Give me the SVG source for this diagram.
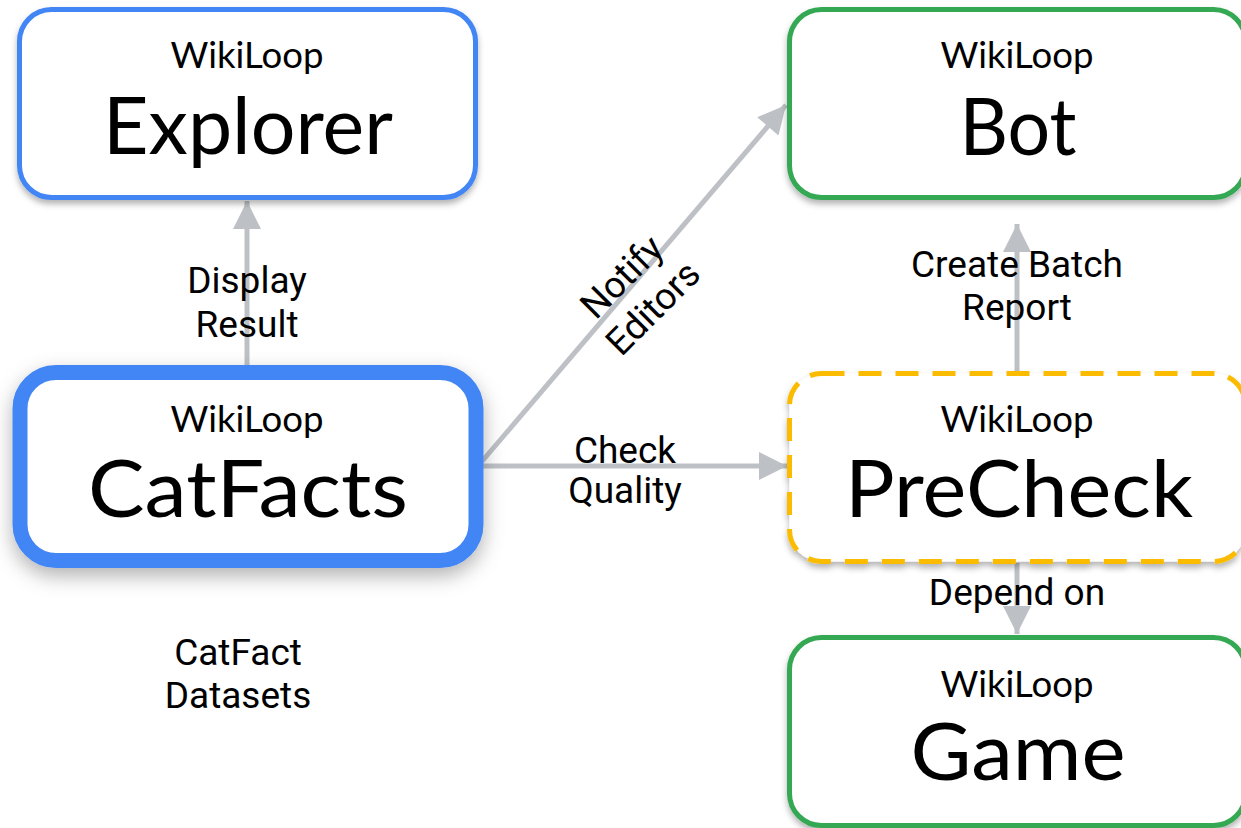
<svg xmlns="http://www.w3.org/2000/svg" width="1241" height="828" viewBox="0 0 1241 828">
<style>
.box{fill:#fff}
.sub{font-family:"Lato","Open Sans",sans-serif;font-size:37px;fill:#000;text-anchor:middle}
.big{font-family:"Lato","Open Sans",sans-serif;font-size:80px;fill:#000;text-anchor:middle}
.lbl{font-family:Roboto,"Liberation Sans",sans-serif;font-size:37px;fill:#000;text-anchor:middle}
.conn{stroke:#bdc1c6;stroke-width:5;fill:none}
</style>
<defs>
<filter id="sh" x="-10%" y="-10%" width="120%" height="130%"><feDropShadow dx="0" dy="4" stdDeviation="3" flood-color="#000" flood-opacity="0.3"/></filter>
<filter id="shBig" x="-15%" y="-15%" width="130%" height="140%"><feDropShadow dx="0" dy="8" stdDeviation="10" flood-color="#000" flood-opacity="0.3"/></filter>
<marker id="ah" viewBox="0 0 10 10" refX="10" refY="5" markerWidth="7.6" markerHeight="5.6" orient="auto" markerUnits="strokeWidth"><path d="M0,0L10,5L0,10Z" fill="#bdc1c6"/></marker>
</defs>
<g id="connectors">
<line class="conn" x1="247" y1="372" x2="247" y2="201" marker-end="url(#ah)"/>
<line class="conn" x1="478" y1="466" x2="786" y2="105" marker-end="url(#ah)"/>
<line class="conn" x1="478" y1="466" x2="787" y2="466" marker-end="url(#ah)"/>
<line class="conn" x1="1017" y1="372" x2="1017" y2="224" marker-end="url(#ah)"/>
<line class="conn" x1="1017" y1="563" x2="1017" y2="634" marker-end="url(#ah)"/>
</g>
<g id="node-explorer">
<rect class="box" x="19.5" y="9.5" width="456" height="188" rx="32" stroke="#4285f4" stroke-width="5" filter="url(#sh)"/>
<text class="sub" x="247" y="68" textLength="153" lengthAdjust="spacingAndGlyphs">WikiLoop</text>
<text class="big" x="248" y="154" textLength="290" lengthAdjust="spacingAndGlyphs">Explorer</text>
</g>
<g id="node-catfacts">
<rect class="box" x="20" y="372.5" width="456" height="188" rx="36" stroke="#4285f4" stroke-width="15" filter="url(#shBig)"/>
<text class="sub" x="247" y="432" textLength="153" lengthAdjust="spacingAndGlyphs">WikiLoop</text>
<text class="big" x="248" y="517" textLength="320" lengthAdjust="spacingAndGlyphs">CatFacts</text>
</g>
<g id="node-bot">
<rect class="box" x="789.5" y="9.5" width="456" height="188" rx="32" stroke="#34a853" stroke-width="5" filter="url(#sh)"/>
<text class="sub" x="1017" y="68" textLength="153" lengthAdjust="spacingAndGlyphs">WikiLoop</text>
<text class="big" x="1018" y="155" textLength="117" lengthAdjust="spacingAndGlyphs">Bot</text>
</g>
<g id="node-precheck">
<rect class="box" x="789.5" y="373.5" width="456" height="188" rx="32" stroke="#fbbc04" stroke-width="5" stroke-dasharray="23 14" filter="url(#sh)"/>
<text class="sub" x="1017" y="432" textLength="153" lengthAdjust="spacingAndGlyphs">WikiLoop</text>
<text class="big" x="1019" y="517" textLength="348" lengthAdjust="spacingAndGlyphs">PreCheck</text>
</g>
<g id="node-game">
<rect class="box" x="789.5" y="637.5" width="456" height="188" rx="32" stroke="#34a853" stroke-width="5" filter="url(#sh)"/>
<text class="sub" x="1017" y="697" textLength="153" lengthAdjust="spacingAndGlyphs">WikiLoop</text>
<text class="big" x="1018" y="780" textLength="215" lengthAdjust="spacingAndGlyphs">Game</text>
</g>
<g id="labels">
<text class="lbl" x="247" y="293">Display</text>
<text class="lbl" x="247" y="337">Result</text>
<text class="lbl" x="625" y="463">Check</text>
<text class="lbl" x="625" y="503">Quality</text>
<text class="lbl" x="1017" y="277">Create Batch</text>
<text class="lbl" x="1017" y="320">Report</text>
<text class="lbl" x="1017" y="605">Depend on</text>
<text class="lbl" x="238" y="665">CatFact</text>
<text class="lbl" x="238" y="708">Datasets</text>
<g transform="translate(635,290) rotate(-45)">
<text class="lbl" x="0" y="-6">Notify</text>
<text class="lbl" x="0" y="38">Editors</text>
</g>
</g>
</svg>
